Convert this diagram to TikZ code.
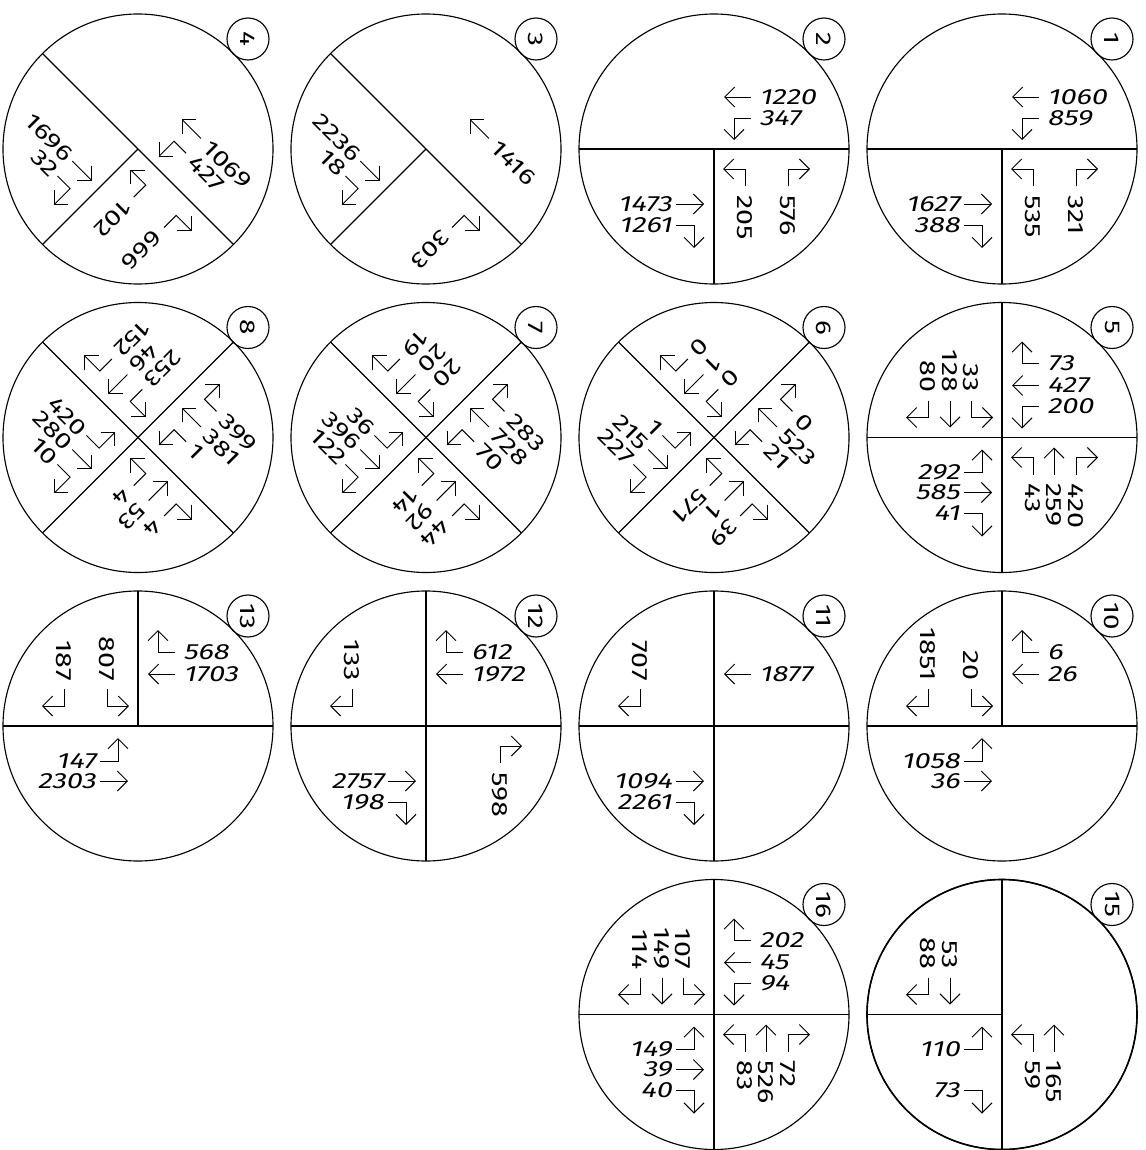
\documentclass[tikz,border=0pt]{standalone}
\usepackage{fontspec}
\usetikzlibrary{arrows.meta,calc}
\newfontfamily\numfont{Fira Sans}[FakeStretch=1.3]
\newfontfamily\numifont{Fira Sans}[FakeStretch=1.3,FakeSlant=0.2]
\tikzset{
  x=0.75pt, y=-0.75pt,
  arr/.style={-{Straight Barb[length=7.5pt,width=15pt]}, line width=0.75pt},
  rim/.style={line width=0.85pt},
  lbl/.style={font=\numfont\fontsize{16.5}{18}\selectfont, inner sep=0pt},
  lbli/.style={font=\numifont\fontsize{16.5}{18}\selectfont, inner sep=0pt},
  ewlbl/.style={lbli},
  bigc/.style={draw, circle, line width=0.85pt, minimum size=202.5pt, inner sep=0pt},
  tagc/.style={draw, circle, line width=0.85pt, minimum size=31.5pt, inner sep=0pt,
    font=\numfont\fontsize{16}{18}\selectfont, rotate=-90},
  diag/.style={rotate=-45, ewlbl/.style={lbl}},
}
% east approach
\newcommand\mER[1]{\draw[arr] (37,-74) -- (20,-74) -- (20,-96); \node[ewlbl,anchor=west,rotate=\ba] (\cid ER) at (45,-74) {#1};}
\newcommand\mET[1]{\draw[arr] (37,-52) -- (10,-52); \node[ewlbl,anchor=west,rotate=\ba] (\cid ET) at (45,-52) {#1};}
\newcommand\mEL[1]{\draw[arr] (37,-31) -- (20,-31) -- (20,-9); \node[ewlbl,anchor=west,rotate=\ba] (\cid EL) at (45,-31) {#1};}
% south approach
\newcommand\mSL[1]{\draw[arr] (31,37) -- (31,20) -- (9,20); \node[lbl,anchor=west,rotate=\ba-90] (\cid SL) at (31,46) {#1};}
\newcommand\mST[1]{\draw[arr] (52,37) -- (52,10); \node[lbl,anchor=west,rotate=\ba-90] (\cid ST) at (52,46) {#1};}
\newcommand\mSR[1]{\draw[arr] (74,37) -- (74,20) -- (96,20); \node[lbl,anchor=west,rotate=\ba-90] (\cid SR) at (74,46) {#1};}
% west approach
\newcommand\mWL[1]{\draw[arr] (-38,35) -- (-20,35) -- (-20,12); \node[ewlbl,anchor=east,rotate=\ba] (\cid WL) at (-42,35) {#1};}
\newcommand\mWT[1]{\draw[arr] (-38,55) -- (-10,55); \node[ewlbl,anchor=east,rotate=\ba] (\cid WT) at (-42,55) {#1};}
\newcommand\mWR[1]{\draw[arr] (-38,76) -- (-20,76) -- (-20,99); \node[ewlbl,anchor=east,rotate=\ba] (\cid WR) at (-42,76) {#1};}
% north approach
\newcommand\mNR[1]{\draw[arr] (-74,-37) -- (-74,-20) -- (-96,-20); \node[lbl,anchor=east,rotate=\ba-90] (\cid NR) at (-74,-45) {#1};}
\newcommand\mNT[1]{\draw[arr] (-52,-37) -- (-52,-10); \node[lbl,anchor=east,rotate=\ba-90] (\cid NT) at (-52,-45) {#1};}
\newcommand\mNL[1]{\draw[arr] (-31,-37) -- (-31,-20) -- (-9,-20); \node[lbl,anchor=east,rotate=\ba-90] (\cid NL) at (-31,-45) {#1};}
% dividing lines
\newcommand\hfull{\draw[rim] (-135,0) -- (135,0);}
\newcommand\vfull{\draw[rim] (0,-135) -- (0,135);}
\newcommand\vdown{\draw[rim] (0,0) -- (0,135);}
\newcommand\vup{\draw[rim] (0,0) -- (0,-135);}
\newcommand\hleft{\draw[rim] (-135,0) -- (0,0);}
% circle frame: #1 id, #2 x, #3 y, #4 number
\newcommand\junction[4]{%
  \node[bigc] (#1) at (#2,#3) {};
  \node[tagc] (#1tag) at ($(#2,#3)+(110,-110)$) {#4};
}
\begin{document}
\begin{tikzpicture}
\useasboundingbox (0,0) rectangle (1146,1150);
\fill[white] (0,0) rectangle (1146,1150);

% ---------- row 1 ----------
\junction{c4}{138}{149}{4}
\begin{scope}[shift={(138,149)},diag]
\def\ba{-45}\def\cid{c4}
\hfull \vdown
\mET{1069}\mEL{427}
\mWT{1696}\mWR{32}
\mSL{102}\mSR{666}
\end{scope}

\junction{c3}{426}{149}{3}
\begin{scope}[shift={(426,149)},diag]
\def\ba{-45}\def\cid{c3}
\hfull \vdown
\mET{1416}
\mWT{2236}\mWR{18}
\mSR{303}
\end{scope}

\junction{c2}{714}{149}{2}
\begin{scope}[shift={(714,149)}]
\def\ba{0}\def\cid{c2}
\hfull \vdown
\mET{1220}\mEL{347}
\mWT{1473}\mWR{1261}
\mSL{205}\mSR{576}
\end{scope}

\junction{c1}{1002}{149}{1}
\begin{scope}[shift={(1002,149)}]
\def\ba{0}\def\cid{c1}
\hfull \vdown
\mET{1060}\mEL{859}
\mWT{1627}\mWR{388}
\mSL{535}\mSR{321}
\end{scope}

% ---------- row 2 ----------
\junction{c8}{138}{437.5}{8}
\begin{scope}[shift={(138,437.5)},diag]
\def\ba{-45}\def\cid{c8}
\hfull \vfull
\mER{399}\mET{381}\mEL{1}
\mWL{420}\mWT{280}\mWR{10}
\mNR{152}\mNT{46}\mNL{253}
\mSL{4}\mST{53}\mSR{4}
\end{scope}

\junction{c7}{426}{437.5}{7}
\begin{scope}[shift={(426,437.5)},diag]
\def\ba{-45}\def\cid{c7}
\hfull \vfull
\mER{283}\mET{728}\mEL{70}
\mWL{36}\mWT{396}\mWR{122}
\mNR{19}\mNT{20}\mNL{20}
\mSL{14}\mST{92}\mSR{44}
\end{scope}

\junction{c6}{714}{437.5}{6}
\begin{scope}[shift={(714,437.5)},diag]
\def\ba{-45}\def\cid{c6}
\hfull \vfull
\mER{0}\mET{523}\mEL{21}
\mWL{1}\mWT{215}\mWR{227}
\mNR{0}\mNT{1}\mNL{0}
\mSL{571}\mST{1}\mSR{39}
\end{scope}

\junction{c5}{1002}{437.5}{5}
\begin{scope}[shift={(1002,437.5)}]
\def\ba{0}\def\cid{c5}
\hfull \vfull
\mER{73}\mET{427}\mEL{200}
\mWL{292}\mWT{585}\mWR{41}
\mNR{80}\mNT{128}\mNL{33}
\mSL{43}\mST{259}\mSR{420}
\end{scope}

% ---------- row 3 ----------
\junction{c13}{138}{726}{13}
\begin{scope}[shift={(138,726)}]
\def\ba{0}\def\cid{c13}
\hfull \vup
\mER{568}\mET{1703}
\mNR{187}\mNL{807}
\mWL{147}\mWT{2303}
\end{scope}

\junction{c12}{426}{726}{12}
\begin{scope}[shift={(426,726)}]
\def\ba{0}\def\cid{c12}
\hfull \vfull
\mER{612}\mET{1972}
\mNR{133}
\mWT{2757}\mWR{198}
\mSR{598}
\end{scope}

\junction{c11}{714}{726}{11}
\begin{scope}[shift={(714,726)}]
\def\ba{0}\def\cid{c11}
\hfull \vfull
\mET{1877}
\mNR{707}
\mWT{1094}\mWR{2261}
\end{scope}

\junction{c10}{1002}{726}{10}
\begin{scope}[shift={(1002,726)}]
\def\ba{0}\def\cid{c10}
\hfull \vup
\mER{6}\mET{26}
\mNR{1851}\mNL{20}
\mWL{1058}\mWT{36}
\end{scope}

% ---------- row 4 ----------
\junction{c16}{714}{1014.5}{16}
\begin{scope}[shift={(714,1014.5)}]
\def\ba{0}\def\cid{c16}
\hfull \vfull
\mER{202}\mET{45}\mEL{94}
\mNR{114}\mNT{149}\mNL{107}
\mWL{149}\mWT{39}\mWR{40}
\mSL{83}\mST{526}\mSR{72}
\end{scope}

\junction{c15}{1002}{1014.5}{15}
\draw[line width=1.2pt] (c15) circle (101.25pt);
\begin{scope}[shift={(1002,1014.5)}]
\def\ba{0}\def\cid{c15}
\hleft \vfull
\mNR{88}\mNT{53}
\mWL{110}\mWR{73}
\mSL{59}\mST{165}
\end{scope}
\end{tikzpicture}
\end{document}
